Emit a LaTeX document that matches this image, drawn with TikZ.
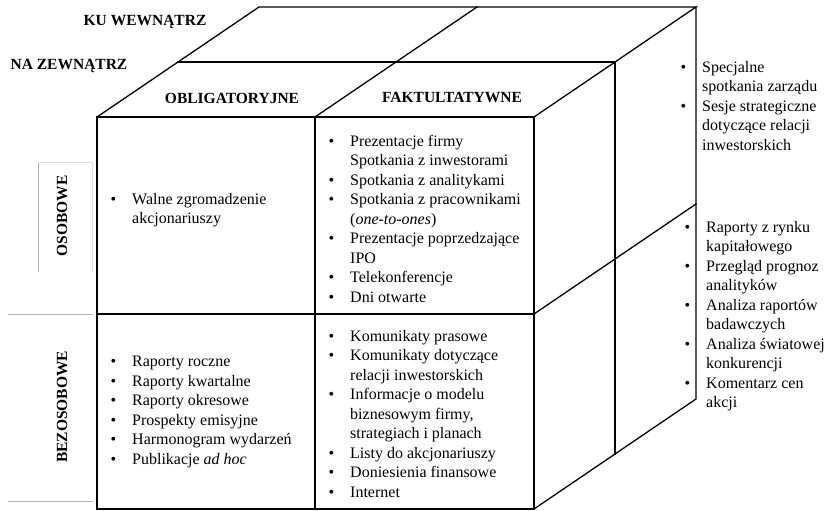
\documentclass[tikz,border=0pt]{standalone}
\usepackage{fontspec}
\setmainfont{Liberation Serif}
\usetikzlibrary{positioning, calc}
\tikzstyle{edge} = [line width=1.3pt, line join=miter, line cap=rect]
\tikzstyle{heading} = [font=\fontsize{15.5}{18}\selectfont\bfseries, inner sep=0pt]
\tikzstyle{sidelabel} = [heading, rotate=90]
\tikzstyle{itemlist} = [anchor=north west, align=left, inner sep=0pt, font=\fontsize{16}{19.5}\selectfont]
\tikzstyle{frame} = [draw=black!30, line width=0.6pt]
\tikzstyle{faintframe} = [draw=black!12, line width=0.6pt]
\newcommand{\itm}{\llap{\textbullet\hspace{16pt}}}

\begin{document}
\begin{tikzpicture}[x=1pt, y=-1pt]
\useasboundingbox (0,0) rectangle (828,511);

% Front face corners
\coordinate (F-tl) at (97,117);
\coordinate (F-tm) at (315,117);
\coordinate (F-tr) at (534,117);
\coordinate (F-ml) at (97,314);
\coordinate (F-mr) at (534,314);
\coordinate (F-bl) at (97,509);
\coordinate (F-bm) at (315,509);
\coordinate (F-br) at (534,509);

% Back and middle depth corners
\coordinate (B-tl) at ($(F-tl)+(162,-110)$);
\coordinate (B-tm) at ($(F-tm)+(162,-110)$);
\coordinate (B-tr) at ($(F-tr)+(162,-110)$);
\coordinate (B-mr) at ($(F-mr)+(162,-110)$);
\coordinate (B-br) at ($(F-br)+(162,-110)$);
\coordinate (M-tl) at ($(F-tl)+(81,-55)$);
\coordinate (M-tr) at ($(F-tr)+(81,-55)$);
\coordinate (M-br) at ($(F-br)+(81,-55)$);

% Front face
\draw [edge] (F-tl) rectangle (F-br);
\draw [edge] (F-tm) -- (F-bm);
\draw [edge] (F-ml) -- (F-mr);

% Top face
\draw [edge] (F-tl) -- (B-tl) -- (B-tr) -- (F-tr);
\draw [edge] (F-tm) -- (B-tm);
\draw [edge] (M-tl) -- (M-tr);

% Right face
\draw [edge] (B-tr) -- (B-br) -- (F-br);
\draw [edge] (M-tr) -- (M-br);
\draw [edge] (F-mr) -- (B-mr);

% Axis headings
\node (inward) [heading] at (145,22) {KU WEWNĄTRZ};
\node (outward) [heading] at (69,66) {NA ZEWNĄTRZ};
\node (mandatory) [heading] at (232,98) {OBLIGATORYJNE};
\node (optional) [heading] at (452,98) {FAKTULTATYWNE};
\node (personal) [sidelabel] at (62,216) {OSOBOWE};
\node (impersonal) [sidelabel] at (62,407) {BEZOSOBOWE};

% Faint table borders round the side labels
\draw [frame] (38,162) -- (38,272);
\draw [faintframe] (38,162) -- (92,162) -- (92,272);
\draw [frame] (8,314) -- (93,314);
\draw [frame] (8,501) -- (93,501);

% Front cells
\node (meeting) [itemlist] at (132,193) {\itm Walne zgromadzenie\\ akcjonariuszy};
\node (reports) [itemlist] at (132,356) {\itm Raporty roczne\\ \itm Raporty kwartalne\\ \itm Raporty okresowe\\ \itm Prospekty emisyjne\\ \itm Harmonogram wydarzeń\\ \itm Publikacje \textit{ad hoc}};
\node (presentations) [itemlist] at (350,135) {\itm Prezentacje firmy\\ Spotkania z inwestorami\\ \itm Spotkania z analitykami\\ \itm Spotkania z pracownikami\\ (\textit{one-to-ones})\\ \itm Prezentacje poprzedzające\\ IPO\\ \itm Telekonferencje\\ \itm Dni otwarte};
\node (releases) [itemlist] at (350,330) {\itm Komunikaty prasowe\\ \itm Komunikaty dotyczące\\ relacji inwestorskich\\ \itm Informacje o modelu\\ biznesowym firmy,\\ strategiach i planach\\ \itm Listy do akcjonariuszy\\ \itm Doniesienia finansowe\\ \itm Internet};

% Inward side
\node (special) [itemlist] at (702,61) {\itm Specjalne\\ spotkania zarządu\\ \itm Sesje strategiczne\\ dotyczące relacji\\ inwestorskich};
\node (analysis) [itemlist] at (706,221) {\itm Raporty z rynku\\ kapitałowego\\ \itm Przegląd prognoz\\ analityków\\ \itm Analiza raportów\\ badawczych\\ \itm Analiza światowej\\ konkurencji\\ \itm Komentarz cen\\ akcji};

\end{tikzpicture}
\end{document}
